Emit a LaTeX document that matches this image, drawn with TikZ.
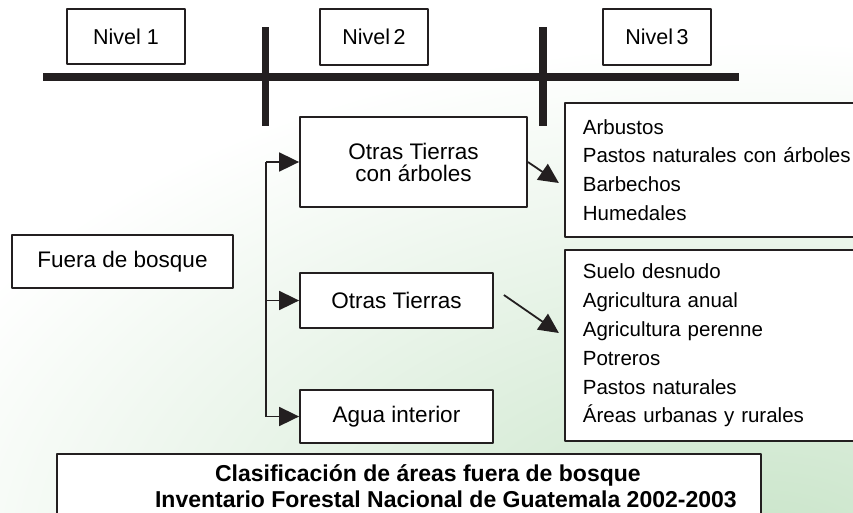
\documentclass[tikz,border=0pt]{standalone}
\usepackage{fontspec}
\setmainfont{Liberation Sans}
\usetikzlibrary{arrows.meta}
\definecolor{bggreen}{RGB}{200,228,200}
\definecolor{ink}{RGB}{35,31,32}
\begin{document}
\begin{tikzpicture}[x=1pt, y=-1pt, line join=round, >={Triangle[length=20pt,width=19pt]}]
	\tikzset{box/.style={draw=ink, line width=1.8pt, fill=white, inner sep=0pt, font=\fontsize{21.5}{24}\selectfont},
		mid/.style={box, align=center, font=\fontsize{22.5}{22}\selectfont},
		list/.style={box, anchor=west, text width=290pt, inner xsep=18pt, align=left, font=\fontsize{20.5}{28.8}\selectfont},
		bar/.style={draw=ink, line width=7.5pt},
		arr/.style={->, draw=ink, line width=1.8pt}}
	\clip (0,0) rectangle (853,512);
	\shade[inner color=bggreen, outer color=white] (760,560) ellipse (900 and 520);
	\draw[bar] (43,77) -- (739,77);
	\draw[bar] (265.5,27) -- (265.5,126) (543,27) -- (543,126);
	\node[box, minimum width=118pt, minimum height=55pt] (niv1) at (126,36.5) {Nivel 1};
	\node[box, minimum width=108pt, minimum height=56pt] (niv2) at (374,37) {Nivel\,2};
	\node[box, minimum width=108pt, minimum height=56pt] (niv3) at (657,37) {Nivel\,3};
	\node[mid, minimum width=221pt, minimum height=53pt] (fuera) at (122.5,261.5) {Fuera de bosque};
	\node[mid, minimum width=227pt, minimum height=90pt] (conarb) at (413.5,162) {Otras Tierras\\con árboles};
	\node[mid, minimum width=193pt, minimum height=55pt] (otras) at (396.5,300.5) {Otras Tierras};
	\node[mid, minimum width=193pt, minimum height=53pt] (agua) at (396.5,416.5) {Agua interior};
	\node[list, minimum height=134pt] (arbus) at (564,170) {Arbustos\\Pastos naturales con árboles\\Barbechos\\Humedales};
	\node[list, minimum height=191pt] (suelo) at (564,345.5) {Suelo desnudo\\Agricultura anual\\Agricultura perenne\\Potreros\\Pastos naturales\\Áreas urbanas y rurales};
	\node[box, anchor=north west, minimum width=704pt, inner ysep=9pt, inner xsep=0pt, font=\bfseries\fontsize{23}{26}\selectfont] (titulo) at (56,453) {\begin{tabular}{@{}c@{}}\hspace*{38pt}Clasificación de áreas fuera de bosque\\\hspace*{96pt}Inventario Forestal Nacional de Guatemala 2002-2003\hspace*{22pt}\rule[-12pt]{0pt}{0pt}\end{tabular}};
	\coordinate (brktop) at (266,162);
	\coordinate (brkbot) at (266,416.5);
	\draw[draw=ink, line width=1.8pt] (brktop) -- (brkbot);
	\draw[arr] (brktop) -- (conarb.west);
	\draw[arr] (brktop |- otras.west) -- (otras.west);
	\draw[arr] (brkbot) -- (agua.west);
	\draw[arr] (conarb.east) -- ++(31,21);
	\draw[arr] ([shift={(10,-5.5)}]otras.east) -- ++(55,38);
\end{tikzpicture}
\end{document}
